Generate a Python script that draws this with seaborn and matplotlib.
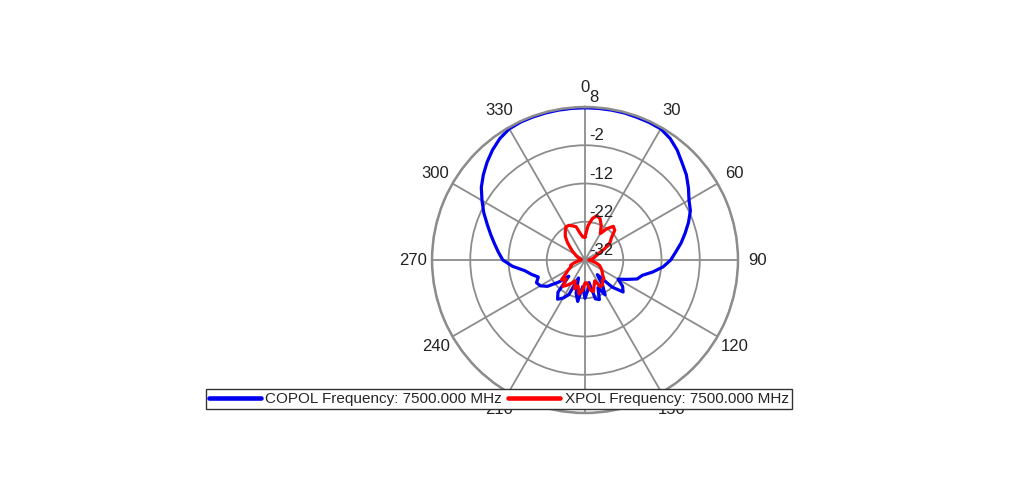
import numpy as np
import pandas as pd
import matplotlib
matplotlib.use("Agg")
import matplotlib.pyplot as plt
import matplotlib.transforms as mtransforms
from matplotlib.patches import Rectangle
from matplotlib.lines import Line2D
import seaborn as sns

# ---------------- data ----------------
angles_deg = list(range(0, 360, 5))
copol_db = [7.8, 7.8, 7.8, 7.8, 7.7, 7.7, 7.6, 6.8, 5.5, 3.9, 2.6, 1.0,
            -0.6, -1.6, -3.2, -4.9, -6.5, -8.2, -9.6, -11.5, -14.0, -16.5, -17.5, -20.0,
            -22.0, -20.0, -19.0, -22.0, -27.0, -24.0, -21.5, -24.0, -21.0, -21.5, -26.0, -24.0,
            -22.0, -25.0, -21.0, -23.0, -27.0, -22.0, -20.5, -19.5, -21.0, -26.0, -23.0, -20.0,
            -18.5, -18.0, -19.0, -17.5, -16.0, -13.0, -10.5, -9.3, -8.0, -6.5, -4.8, -2.8,
            -0.9, 1.1, 2.7, 4.2, 5.6, 6.8, 7.6, 7.8, 7.8, 7.8, 7.8, 7.8]
xpol_db = [-26.0, -23.0, -21.0, -20.0, -20.5, -22.0, -24.0, -22.0, -20.5, -21.0, -23.0, -24.0,
           -26.0, -28.0, -29.0, -29.5, -30.0, -30.5, -31.0, -30.5, -30.0, -29.0, -28.0, -27.5,
           -27.0, -26.5, -26.0, -25.0, -25.0, -24.0, -24.0, -26.0, -25.0, -23.5, -24.0, -26.0,
           -26.0, -24.0, -23.0, -25.0, -24.0, -26.0, -25.0, -24.0, -23.0, -25.0, -24.0, -26.0,
           -27.0, -28.0, -28.0, -29.0, -30.0, -30.5, -31.0, -31.0, -31.0, -30.5, -30.0, -29.5,
           -29.0, -28.0, -27.0, -25.5, -24.0, -23.0, -22.0, -22.0, -22.5, -23.0, -25.0, -26.0]
r_ticks = [-32, -22, -12, -2, 8]
theta_ticks = list(range(0, 360, 30))
series_names = ["COPOL Frequency: 7500.000 MHz", "XPOL Frequency: 7500.000 MHz"]
series_colors = ["#0000f0", "#ff0000"]

# ---------------- style ----------------
sns.set_theme(style="white")
plt.rcParams["font.family"] = ["Liberation Sans", "DejaVu Sans"]

fig = plt.figure(figsize=(10.24, 4.86), dpi=100)
fig.patch.set_facecolor("white")
ax = fig.add_axes([0.4219, 0.1502, 0.2988, 0.6296], projection="polar")
ax.set_theta_zero_location("N")
ax.set_theta_direction(-1)

rows = []
for name, vals in zip(series_names, [copol_db, xpol_db]):
    th = np.deg2rad(angles_deg + [angles_deg[0] + 360])
    rr = vals + [vals[0]]
    for t, r in zip(th, rr):
        rows.append({"theta": t, "gain": r, "series": name})
df = pd.DataFrame(rows)

sns.lineplot(data=df, x="theta", y="gain", hue="series", palette=series_colors,
             sort=False, estimator=None, units="series", linewidth=2.3,
             ax=ax, legend=False)

ax.set_ylim(r_ticks[0], r_ticks[-1])
ax.set_yticks(r_ticks)
ax.set_yticklabels([])
ax.set_xticks(np.deg2rad(theta_ticks))
ax.set_xticklabels([str(t) if t != 180 else "" for t in theta_ticks], fontsize=12, color="#222222")
ax.tick_params(axis="x", pad=1)
ax.set_xlabel("")
ax.set_ylabel("")
ax.grid(True, color="#8c8c8c", linewidth=1.3)
ax.spines["polar"].set_color("#8c8c8c")
ax.spines["polar"].set_linewidth(1.8)

off = mtransforms.offset_copy(ax.transData, fig=fig, x=4, y=2, units="dots")
for v in r_ticks:
    ax.text(0, v, str(v), transform=off, ha="left", va="bottom",
            fontsize=12, color="#222222")

# white-out below the plot (reference image is cropped there)
fig.add_artist(Rectangle((0, 0), 1, (486 - 416) / 486, transform=fig.transFigure,
                         facecolor="white", edgecolor="none", zorder=5))

handles = [Line2D([], [], color=c, linewidth=3.3) for c in series_colors]
leg = fig.legend(handles, series_names, loc="center", bbox_to_anchor=(0.487, 0.179),
                 ncol=2, fontsize=11, frameon=True, fancybox=False, framealpha=1,
                 edgecolor="#333333", handlelength=3.4, handletextpad=0.3,
                 columnspacing=0.4, borderpad=0.2, borderaxespad=0)
leg.get_frame().set_linewidth(1.0)
leg.set_zorder(10)

fig.savefig("out.png", dpi=100, facecolor="white")
